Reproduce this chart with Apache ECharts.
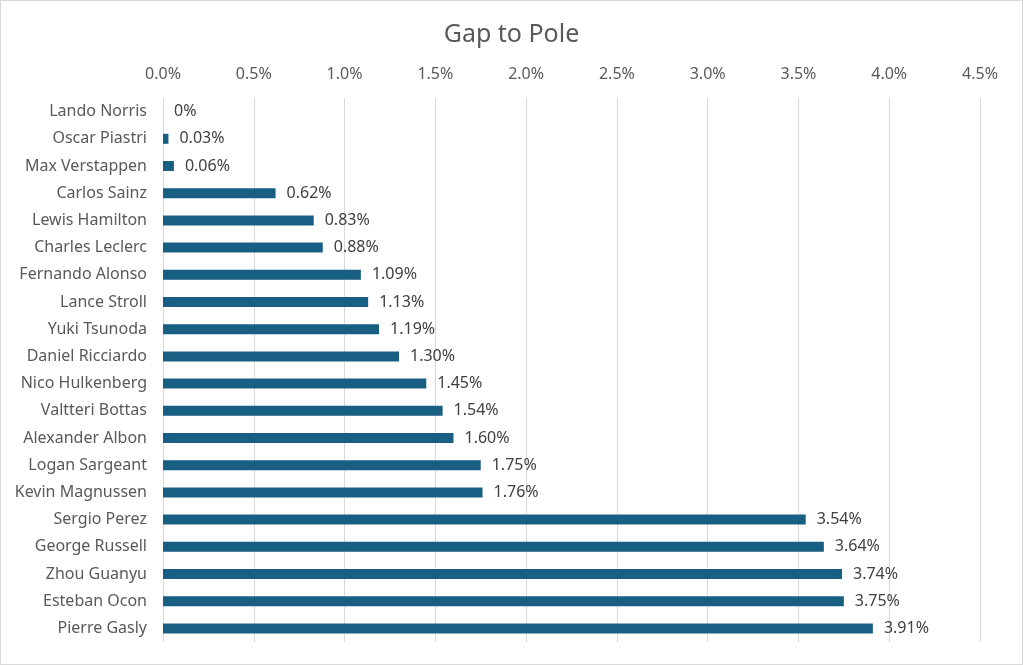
<!DOCTYPE html>
<html>
<head>
<meta charset="utf-8">
<script src="https://cdn.jsdelivr.net/npm/echarts@6/dist/echarts.min.js"></script>
<style>
html,body{margin:0;padding:0;background:#fff;}
#c{width:1023px;height:665px;box-sizing:border-box;border:1px solid #d9d9d9;}
</style>
</head>
<body>
<div id="c"></div>
<script>
const drivers = ["Lando Norris","Oscar Piastri","Max Verstappen","Carlos Sainz","Lewis Hamilton","Charles Leclerc","Fernando Alonso","Lance Stroll","Yuki Tsunoda","Daniel Ricciardo","Nico Hulkenberg","Valtteri Bottas","Alexander Albon","Logan Sargeant","Kevin Magnussen","Sergio Perez","George Russell","Zhou Guanyu","Esteban Ocon","Pierre Gasly"];
const gapPct = [0,0.03,0.06,0.62,0.83,0.88,1.09,1.13,1.19,1.30,1.45,1.54,1.60,1.75,1.76,3.54,3.64,3.74,3.75,3.91];
const axisTicks = [0,0.5,1.0,1.5,2.0,2.5,3.0,3.5,4.0,4.5];

const chart = echarts.init(document.getElementById('c'));
const font = 'Noto Sans';
chart.setOption({
  animation:false,
  title:{text:'Gap to Pole',left:'center',top:16,textStyle:{fontFamily:font,fontSize:25,fontWeight:'normal',color:'#595959'}},
  grid:{left:162,right:42,top:97,bottom:22,containLabel:false},
  xAxis:{type:'value',position:'top',min:axisTicks[0],max:axisTicks[axisTicks.length-1],interval:0.5,
    axisLine:{show:false},axisTick:{show:false},
    axisLabel:{fontFamily:font,fontSize:16,color:'#595959',margin:16,formatter:v=>v.toFixed(1)+'%'},
    splitLine:{show:true,lineStyle:{color:'#d9d9d9',width:1}}},
  yAxis:{type:'category',data:drivers,inverse:true,
    axisLine:{show:false},axisTick:{show:false},
    axisLabel:{fontFamily:font,fontSize:16,color:'#595959',margin:16}},
  series:[{type:'bar',data:gapPct,barWidth:10,
    itemStyle:{color:'#195e83'},
    label:{show:true,position:'right',distance:11,fontFamily:font,fontSize:16,color:'#404040',
      formatter:p=>p.value===0?'0%':p.value.toFixed(2)+'%'}}]
});
</script>
</body>
</html>
